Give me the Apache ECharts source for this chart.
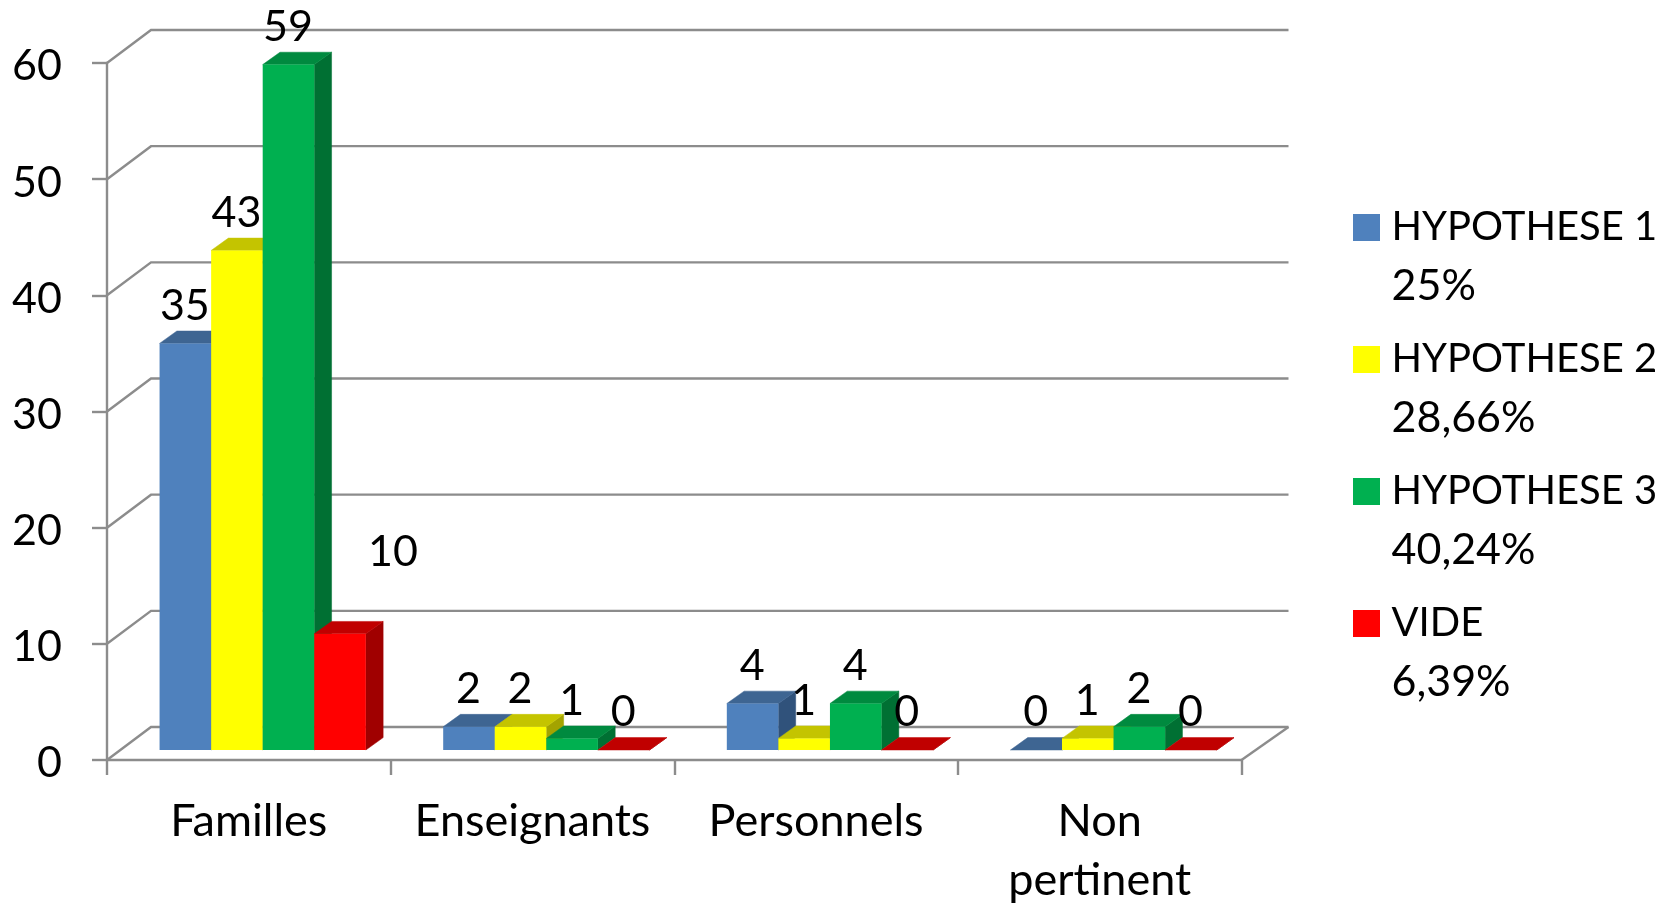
<!DOCTYPE html>
<html><head><meta charset="utf-8">
<style>html,body{margin:0;padding:0;background:#fff}#c{width:1677px;height:903px}</style>
<script src="https://cdn.jsdelivr.net/npm/echarts@6/dist/echarts.min.js"></script>
</head><body><div id="c"></div>
<script>
const categories = ['Familles', 'Enseignants', 'Personnels', 'Non\npertinent'];
const valueTicks = [0, 10, 20, 30, 40, 50, 60];
const hypothese1 = [35, 2, 4, 0];
const hypothese2 = [43, 2, 1, 1];
const hypothese3 = [59, 1, 4, 2];
const vide = [10, 0, 0, 0];
const seriesNames = ['HYPOTHESE 1', 'HYPOTHESE 2', 'HYPOTHESE 3', 'VIDE'];
const shares = ['25%', '28,66%', '40,24%', '6,39%'];

const FONT = 'Lato', SIZE = 43, CAT_SIZE = 45, AXIS = '#8c8c8c', LW = 2.4;
const faces = [
  {front:'#4F81BD', top:'#3E6592', side:'#30527B'},
  {front:'#FFFF00', top:'#C4C400', side:'#A3A300'},
  {front:'#00B050', top:'#008A3F', side:'#007033'},
  {front:'#FF0000', top:'#C00000', side:'#A00000'}
];
const WALL_DX = 44, WALL_DY = 33;     // wall depth
const BAR_DX = 17.3, BAR_DY = 12.4;   // bar depth
const FLOOR_SHIFT = 10;               // bars stand a little behind the front edge
const SWATCH = 'path://M0,0L0,0Z M0,16H27V43H0Z M33.5,118L33.5,118Z';

function poly(points, fill){
  return {type:'polygon', shape:{points}, style:{fill, stroke:fill, lineWidth:0.5}};
}
function barSeries(name, values, idx){
  return {
    name, type:'custom', data: values.map((v,i)=>[i,v]),
    encode:{x:0,y:1}, itemStyle:{color:faces[idx].front}, z:3,
    renderItem(params, api){
      const c = api.value(0), v = api.value(1);
      const band = api.size([1,0])[0], w = band/5.5;
      const pt = api.coord([c,v]), base = api.coord([c,0]);
      const x = pt[0]-band/2 + w + idx*w + 1;
      const yt = pt[1]-FLOOR_SHIFT, yb = base[1]-FLOOR_SHIFT;
      const f = faces[idx];
      const children = [
        poly([[x+w,yb],[x+w+BAR_DX,yb-BAR_DY],[x+w+BAR_DX,yt-BAR_DY],[x+w,yt]], f.side),
        poly([[x,yt],[x+BAR_DX,yt-BAR_DY],[x+w+BAR_DX,yt-BAR_DY],[x+w,yt]], f.top)
      ];
      if (yb-yt>0.5) children.push({type:'rect', shape:{x,y:yt,width:w,height:yb-yt}, style:{fill:f.front}});
      // the VIDE label of the tall group sits away from its bar in the source
      const off = (idx===3 && v===10) ? [53,-81.5] : [-0.5,-37.5];
      children.push({type:'text', z2:100, style:{text:String(v), x:x+w/2+off[0], y:yt+off[1],
        align:'center', verticalAlign:'middle', font:SIZE+'px '+FONT, fill:'#000'}});
      return {type:'group', children};
    }
  };
}
const wallSeries = {
  type:'custom', z:1, silent:true, data:valueTicks.map(v=>[0,v]), encode:{x:0,y:1},
  renderItem(params, api){
    const g = params.coordSys, y = api.coord([0,api.value(1)])[1];
    const ls = {stroke:AXIS, lineWidth:LW, fill:null};
    const children = [{type:'polyline', shape:{points:[[g.x,y],[g.x+WALL_DX,y-WALL_DY],[g.x+g.width+WALL_DX+3,y-WALL_DY]]}, style:ls}];
    if (api.value(1)===0) children.push({type:'polyline', shape:{points:[[g.x+g.width,y],[g.x+g.width+WALL_DX+3,y-WALL_DY]]}, style:ls});
    return {type:'group', children};
  }
};
const chart = echarts.init(document.getElementById('c'), null, {renderer:'canvas'});
chart.setOption({
  animation:false, backgroundColor:'#fff',
  grid:{left:107, right:435.5, top:63, bottom:143, outerBoundsMode:'none', containLabel:false},
  legend:{
    left:1353, top:198, padding:0, orient:'vertical', itemWidth:33.5, itemHeight:118, itemGap:14,
    selectedMode:false,
    data:seriesNames.map(n=>({name:n, icon:SWATCH})),
    formatter:n=>'{a|'+n+'}\n{b|'+shares[seriesNames.indexOf(n)]+'}',
    itemStyle:{borderWidth:0},
    textStyle:{fontFamily:FONT, fontSize:40, lineHeight:59, color:'#000',
      rich:{a:{fontFamily:FONT, fontSize:40, lineHeight:59, color:'#000'},
            b:{fontFamily:FONT, fontSize:43, lineHeight:59, color:'#000'}}}
  },
  xAxis:{type:'category', data:categories, boundaryGap:true,
    axisLine:{lineStyle:{color:AXIS,width:LW}}, axisTick:{show:true,length:15,alignWithLabel:false,interval:0,lineStyle:{color:AXIS,width:LW}},
    axisLabel:{interval:0, margin:32, fontFamily:FONT, fontSize:CAT_SIZE, lineHeight:59, color:'#000'}, splitLine:{show:false}},
  yAxis:{type:'value', min:0, max:60, interval:10,
    axisLine:{show:true,lineStyle:{color:AXIS,width:LW}}, axisTick:{show:true,length:15,lineStyle:{color:AXIS,width:LW}},
    axisLabel:{margin:45, fontFamily:FONT, fontSize:SIZE, color:'#000', verticalAlign:'top', lineHeight:7}, splitLine:{show:false}},
  series:[wallSeries,
    barSeries(seriesNames[0], hypothese1, 0),
    barSeries(seriesNames[1], hypothese2, 1),
    barSeries(seriesNames[2], hypothese3, 2),
    barSeries(seriesNames[3], vide, 3)]
});
</script></body></html>
